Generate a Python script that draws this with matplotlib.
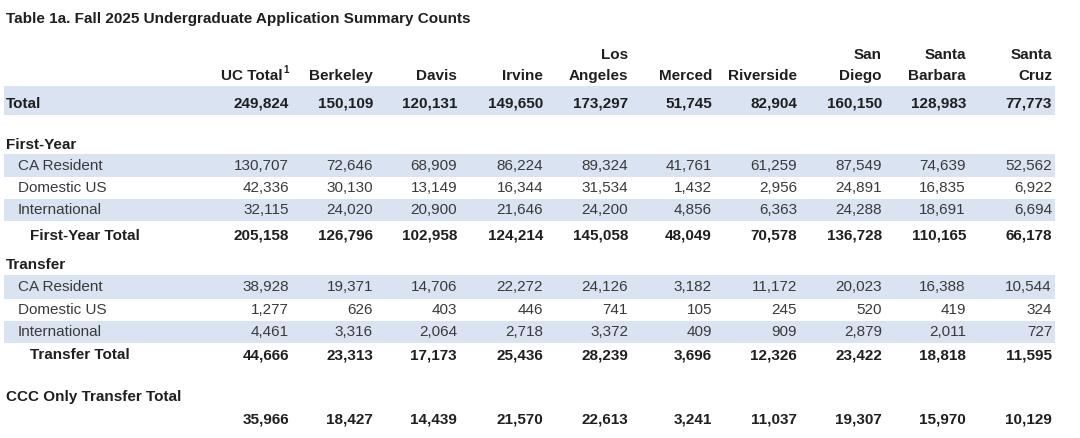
import matplotlib
matplotlib.use("Agg")
import matplotlib.pyplot as plt
from matplotlib.patches import Rectangle

plt.rcParams['font.family'] = ['Liberation Sans', 'DejaVu Sans']

title = "Table 1a. Fall 2025 Undergraduate Application Summary Counts"

campuses = ["UC Total", "Berkeley", "Davis", "Irvine", "Los\nAngeles", "Merced",
            "Riverside", "San\nDiego", "Santa\nBarbara", "Santa\nCruz"]

total = [249824, 150109, 120131, 149650, 173297, 51745, 82904, 160150, 128983, 77773]

fy_ca = [130707, 72646, 68909, 86224, 89324, 41761, 61259, 87549, 74639, 52562]
fy_dom = [42336, 30130, 13149, 16344, 31534, 1432, 2956, 24891, 16835, 6922]
fy_intl = [32115, 24020, 20900, 21646, 24200, 4856, 6363, 24288, 18691, 6694]
fy_total = [205158, 126796, 102958, 124214, 145058, 48049, 70578, 136728, 110165, 66178]

tr_ca = [38928, 19371, 14706, 22272, 24126, 3182, 11172, 20023, 16388, 10544]
tr_dom = [1277, 626, 403, 446, 741, 105, 245, 520, 419, 324]
tr_intl = [4461, 3316, 2064, 2718, 3372, 409, 909, 2879, 2011, 727]
tr_total = [44666, 23313, 17173, 25436, 28239, 3696, 12326, 23422, 18818, 11595]

ccc_total = [35966, 18427, 14439, 21570, 22613, 3241, 11037, 19307, 15970, 10129]

# layout (pixel coordinates)
col_right = [289, 373, 457, 543, 628, 712, 797, 882, 966, 1052]
band_color = "#dae3f2"
bold_color = "#1f1f1f"
reg_color = "#3a3a3a"
fs = 11

fig = plt.figure(figsize=(10.8, 4.38), dpi=100)
ax = fig.add_axes([0, 0, 1, 1])
ax.set_xlim(0, 1080)
ax.set_ylim(438, 0)
ax.axis("off")


def band(y0, y1):
    ax.add_patch(Rectangle((4, y0), 1051, y1 - y0, facecolor=band_color,
                           edgecolor="none", zorder=0))


def value_row(y, values, bold=False):
    for x, v in zip(col_right, values):
        ax.text(x, y, f"{v:,}", ha="right", va="center", fontsize=fs,
                fontweight="bold" if bold else "normal",
                color=bold_color if bold else reg_color)


def label(x, y, text, bold=False):
    ax.text(x, y, text, ha="left", va="center", fontsize=fs,
            fontweight="bold" if bold else "normal",
            color=bold_color if bold else reg_color)


ax.text(6, 19, title, ha="left", va="center", fontsize=fs,
        fontweight="bold", color=bold_color)

# column headers
for i, (x, name) in enumerate(zip(col_right, campuses)):
    lines = name.split("\n")
    if i == 0:
        ax.text(x - 6, 76, lines[0], ha="right", va="center", fontsize=fs,
                fontweight="bold", color=bold_color)
        ax.text(x, 70, "1", ha="right", va="center", fontsize=7,
                fontweight="bold", color=bold_color)
        continue
    if len(lines) == 2:
        ax.text(x, 55, lines[0], ha="right", va="center", fontsize=fs,
                fontweight="bold", color=bold_color)
    ax.text(x, 76, lines[-1], ha="right", va="center", fontsize=fs,
            fontweight="bold", color=bold_color)

# total
band(86, 115)
label(6, 104, "Total", bold=True)
value_row(104, total, bold=True)

# first-year
label(6, 145, "First-Year", bold=True)
band(154, 177)
label(18, 166, "CA Resident")
value_row(166, fy_ca)
label(18, 188, "Domestic US")
value_row(188, fy_dom)
band(199, 221)
label(18, 210, "International")
value_row(210, fy_intl)
label(30, 236, "First-Year Total", bold=True)
value_row(236, fy_total, bold=True)

# transfer
label(6, 265, "Transfer", bold=True)
band(275, 299)
label(18, 287, "CA Resident")
value_row(287, tr_ca)
label(18, 310, "Domestic US")
value_row(310, tr_dom)
band(321, 343)
label(18, 332, "International")
value_row(332, tr_intl)
label(30, 355, "Transfer Total", bold=True)
value_row(355, tr_total, bold=True)

# CCC only
label(6, 397, "CCC Only Transfer Total", bold=True)
value_row(420, ccc_total, bold=True)

fig.savefig("out.png", dpi=100, facecolor="white")
